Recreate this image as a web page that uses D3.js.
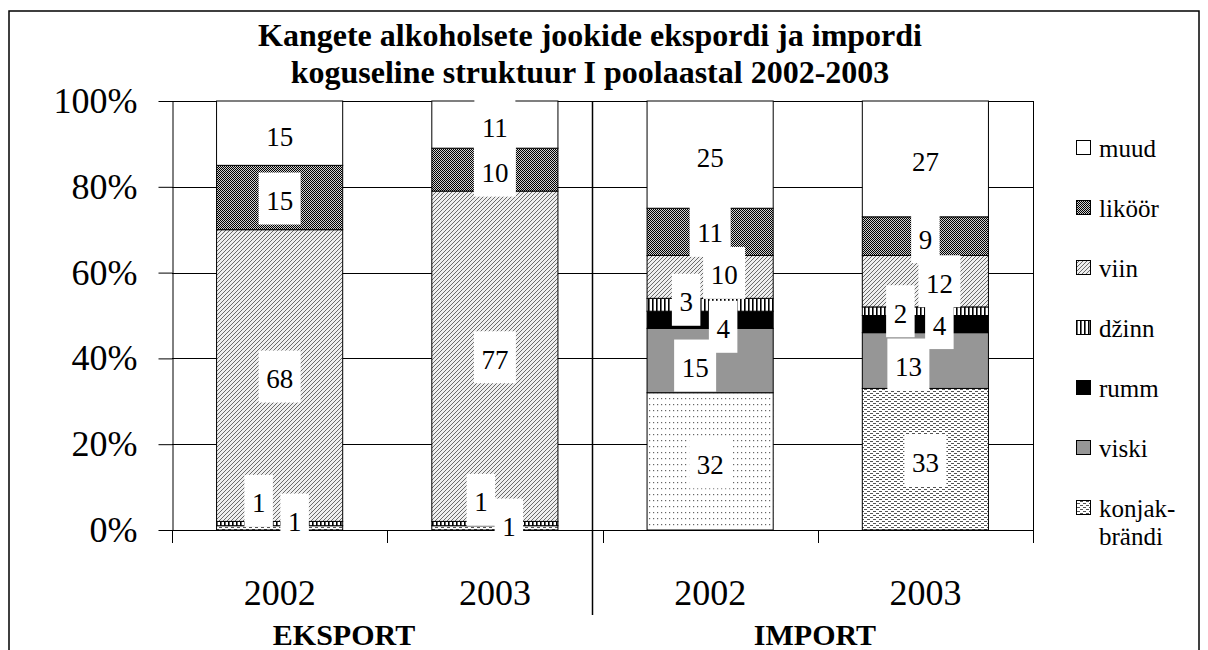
<html>
<head>
<meta charset="UTF-8">
<title>Kangete alkoholsete jookide eksport ja import</title>
<script src="https://cdn.jsdelivr.net/npm/d3@7"></script>
<style>
  body { margin: 0; background: #fff; }
  svg, text { font-family: "Liberation Serif", "Times New Roman", Times, "DejaVu Serif", serif; }
  text { fill: #000; }
</style>
</head>
<body>
<svg id="chart" width="1208" height="650"></svg>
<script>
// values (share of volume, %)
var bars = ["2002", "2003", "2002", "2003"];
var groups = ["EKSPORT", "IMPORT"];
var seriesNames = ["konjak-brändi", "viski", "rumm", "džinn", "viin", "liköör", "muud"];
var konjak = [1, 1, 32, 33];
var viski  = [0, 0, 15, 13];
var rumm   = [0, 0, 4, 4];
var dzinn  = [1, 1, 3, 2];
var viin   = [68, 77, 10, 12];
var likoor = [15, 10, 11, 9];
var muud   = [15, 11, 25, 27];
var yTicks = [0, 20, 40, 60, 80, 100];
var titleLines = ["Kangete alkoholsete jookide ekspordi ja impordi", "koguseline struktuur I poolaastal 2002-2003"];

var keys = ["konjak", "viski", "rumm", "dzinn", "viin", "likoor", "muud"];
var table = bars.map(function(b, i) {
  return { bar: i, konjak: konjak[i], viski: viski[i], rumm: rumm[i], dzinn: dzinn[i],
           viin: viin[i], likoor: likoor[i], muud: muud[i] };
});

// labels that were dragged off the segment centre in the original
var nudge = {
  "konjak|0": [-21, -28], "dzinn|0": [15, -5],
  "konjak|1": [-14, -29], "dzinn|1": [14, 0],
  "viski|2": [-15, 4], "rumm|2": [13, 6], "dzinn|2": [-24, -6], "viin|2": [14, -5], "likoor|2": [0, -2],
  "viski|3": [-17, 3], "rumm|3": [14, -2], "dzinn|3": [-25, -1], "viin|3": [14, -1]
};

var font = "'Liberation Serif', 'Times New Roman', Times, 'DejaVu Serif', serif";
var svg = d3.select("#chart");
var margin = { top: 101, left: 172, right: 1033, bottom: 530 };

var x = d3.scaleBand().domain(d3.range(bars.length)).range([margin.left, margin.right])
  .paddingInner(0.414).paddingOuter(0.207);
var y = d3.scaleLinear().domain([0, 100]).range([margin.bottom, margin.top]);

// patterns
var defs = svg.append("defs");
function pat(id, w, h) {
  return defs.append("pattern").attr("id", id).attr("patternUnits", "userSpaceOnUse")
    .attr("width", w).attr("height", h);
}
var p = pat("p-likoor", 2, 2);
p.append("rect").attr("width", 2).attr("height", 2).attr("fill", "#d0d0d0");
p.append("rect").attr("width", 1).attr("height", 1).attr("fill", "#000");
p.append("rect").attr("x", 1).attr("y", 1).attr("width", 1).attr("height", 1).attr("fill", "#000");

p = pat("p-viin", 4, 4);
p.append("rect").attr("width", 4).attr("height", 4).attr("fill", "#eeeeee");
p.append("path").attr("d", "M0,4L4,0M-1,1L1,-1M3,5L5,3").attr("stroke", "#6a6a6a").attr("stroke-width", 1);

p = pat("p-dzinn", 4, 4);
p.append("rect").attr("width", 4).attr("height", 4).attr("fill", "#fff");
p.append("rect").attr("width", 1.6).attr("height", 4).attr("fill", "#000");

p = pat("p-konjak-dot", 4, 6);
p.append("rect").attr("width", 4).attr("height", 6).attr("fill", "#fff");
p.append("rect").attr("x", 1).attr("y", 2).attr("width", 1.2).attr("height", 1.2).attr("fill", "#666");

p = pat("p-konjak-dash", 6, 4);
p.append("rect").attr("width", 6).attr("height", 4).attr("fill", "#fff");
p.append("rect").attr("x", 0).attr("y", 1).attr("width", 3).attr("height", 1).attr("fill", "#555");
p.append("rect").attr("x", 3).attr("y", 3).attr("width", 3).attr("height", 1).attr("fill", "#555");

var fills = {
  konjak: "url(#p-konjak-dash)", viski: "#969696", rumm: "#000", dzinn: "url(#p-dzinn)",
  viin: "url(#p-viin)", likoor: "url(#p-likoor)", muud: "#fff"
};
function fillFor(key, bar) {
  if (key == "konjak" && bar == 2) return "url(#p-konjak-dot)";
  return fills[key];
}

// outer frame
svg.append("rect").attr("x", 9).attr("y", 11).attr("width", 1190).attr("height", 660)
  .attr("fill", "none").attr("stroke", "#000").attr("stroke-width", 1.5);

// title
svg.append("g").selectAll("text").data(titleLines).enter().append("text")
  .attr("x", 590).attr("y", function(d, i) { return 46 + i * 37; })
  .attr("text-anchor", "middle").attr("font-family", font)
  .style("font-size", "32px").style("font-weight", "bold")
  .text(function(d) { return d; });

// gridlines + right border
svg.append("g").selectAll("line").data(yTicks).enter().append("line")
  .attr("x1", margin.left).attr("x2", margin.right)
  .attr("y1", function(d) { return Math.round(y(d)) + 0.5; })
  .attr("y2", function(d) { return Math.round(y(d)) + 0.5; })
  .attr("stroke", "#000").attr("stroke-width", 1);
svg.append("line").attr("x1", margin.right + 0.5).attr("x2", margin.right + 0.5)
  .attr("y1", margin.top).attr("y2", margin.bottom).attr("stroke", "#000");

// category boundary ticks
svg.append("g").selectAll("line").data(d3.range(bars.length + 1)).enter().append("line")
  .attr("x1", function(i) { return Math.round(margin.left + i * x.step()) + 0.5; })
  .attr("x2", function(i) { return Math.round(margin.left + i * x.step()) + 0.5; })
  .attr("y1", margin.bottom).attr("y2", margin.bottom + 13).attr("stroke", "#000");

// stacked bars
var stacked = d3.stack().keys(keys)(table);
var layer = svg.append("g").selectAll("g").data(stacked).enter().append("g");
layer.selectAll("rect").data(function(s) { return s.map(function(d) { return { key: s.key, d: d }; }); })
  .enter().filter(function(o) { return o.d[1] > o.d[0]; }).append("rect")
  .attr("x", function(o) { return x(o.d.data.bar); })
  .attr("width", x.bandwidth())
  .attr("y", function(o) { return y(o.d[1]); })
  .attr("height", function(o) { return y(o.d[0]) - y(o.d[1]); })
  .attr("fill", function(o) { return fillFor(o.key, o.d.data.bar); })
  .attr("stroke", "#000").attr("stroke-width", 1);

// left axis
var leftAxis = d3.axisLeft(y).tickValues(yTicks).tickSize(14).tickSizeOuter(0).tickPadding(21)
  .tickFormat(function(d) { return d + "%"; });
var la = svg.append("g").attr("transform", "translate(" + (margin.left + 0.5) + ",0)").call(leftAxis)
  .attr("font-family", font).attr("font-size", 36);
la.selectAll("line, path").attr("stroke", "#000");

// bottom axis (labels only, line drawn as 0% gridline)
var bottomAxis = d3.axisBottom(x).tickSize(0).tickPadding(49).tickFormat(function(i) { return bars[i]; });
var ba = svg.append("g").attr("transform", "translate(0," + margin.bottom + ")").call(bottomAxis)
  .attr("font-family", font).attr("font-size", 36);
ba.select(".domain").remove();

// EKSPORT / IMPORT divider
svg.append("line").attr("x1", 592.5).attr("x2", 592.5).attr("y1", margin.top).attr("y2", 615)
  .attr("stroke", "#000").attr("stroke-width", 1.5);

svg.append("g").selectAll("text").data(groups).enter().append("text")
  .attr("x", function(d, i) { return i == 0 ? 344 : 815; }).attr("y", 645)
  .attr("text-anchor", "middle").attr("font-family", font)
  .style("font-size", "30px").style("font-weight", "bold")
  .text(function(d) { return d; });

// data labels with white boxes
var labels = [];
stacked.forEach(function(s) {
  s.forEach(function(d) {
    if (d[1] <= d[0]) return;
    var n = nudge[s.key + "|" + d.data.bar] || [0, 0];
    labels.push({ v: d[1] - d[0], cx: x(d.data.bar) + x.bandwidth() / 2 + n[0],
                  cy: (y(d[0]) + y(d[1])) / 2 + 3 + n[1] });
  });
});
labels.forEach(function(l) {
  var g = svg.append("g");
  var box = g.append("rect").attr("fill", "#fff");
  var t = g.append("text").attr("x", l.cx).attr("y", l.cy).attr("dy", "0.35em")
    .attr("text-anchor", "middle").attr("font-family", font).style("font-size", "27px").text(l.v);
  var w = t.node().getComputedTextLength() + 15;
  box.attr("x", l.cx - w / 2).attr("y", l.cy - 2 - 26).attr("width", w).attr("height", 52);
});

// legend, top to bottom reversed
var legend = svg.append("g");
var order = d3.range(keys.length).reverse();
order.forEach(function(k, i) {
  var cy = 148 + i * 60;
  legend.append("rect").attr("x", 1076.5).attr("y", cy - 7.5).attr("width", 14).attr("height", 14)
    .attr("fill", fills[keys[k]]).attr("stroke", "#000");
  var parts = seriesNames[k] == "konjak-brändi" ? ["konjak-", "brändi"] : [seriesNames[k]];
  parts.forEach(function(txt, j) {
    legend.append("text").attr("x", 1099).attr("y", cy + j * 28).attr("dy", "0.35em")
      .attr("font-family", font).style("font-size", "25px").text(txt);
  });
});
</script>
</body>
</html>
